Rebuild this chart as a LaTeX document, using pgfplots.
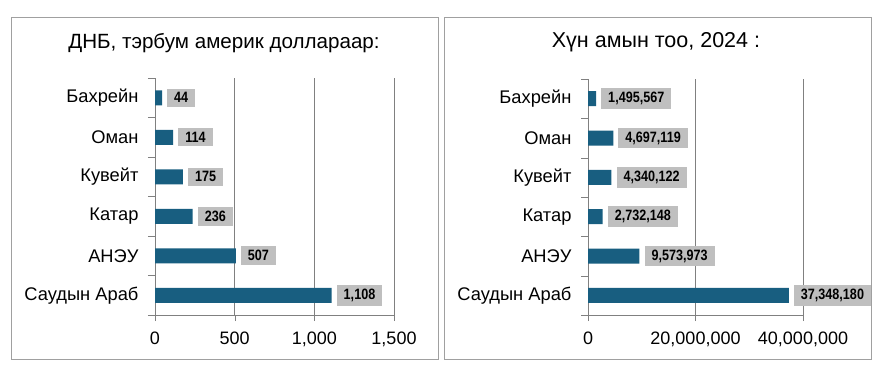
\documentclass[border=0pt]{standalone}
\usepackage{fontspec}
\setmainfont{Liberation Sans}
\newfontfamily\labfont[FakeStretch=0.84]{Liberation Sans}
\usepackage{pgfplots}
\usepackage{pgfplotstable}
\pgfplotsset{compat=1.18}
\definecolor{barc}{RGB}{24,94,128}
\definecolor{labc}{RGB}{191,191,191}
\definecolor{gridc}{RGB}{128,128,128}
\definecolor{framec}{RGB}{160,160,160}
\pgfplotstableread{
y x lab
0 1108 1,108
1 507 507
2 236 236
3 175 175
4 114 114
5 44 44
}\gdp
\pgfplotstableread{
y x lab
0 37348180 37,348,180
1 9573973 9,573,973
2 2732148 2,732,148
3 4340122 4,340,122
4 4697119 4,697,119
5 1495567 1,495,567
}\pop
\pgfplotsset{
  myax/.style={
    scale only axis,
    anchor=south west,
    height=237pt,
    xmin=0,
    ymin=-0.5, ymax=5.5,
    axis x line*=bottom,
    axis y line*=left,
    axis line style={gridc},
    xmajorgrids,
    major grid style={gridc},
    tick style={gridc},
    tick align=outside,
    major tick length=6pt,
    ytick={0,...,5},
    yticklabels={Саудын Араб,АНЭУ,Катар,Кувейт,Оман,Бахрейн},
    ytick style={draw=none},
    extra y ticks={-0.5,0.5,1.5,2.5,3.5,4.5,5.5},
    extra y tick labels={},
    extra y tick style={ytick style={draw=gridc}, major tick length=7pt, grid=none},
    yticklabel style={font=\fontsize{18.3}{21}\selectfont, xshift=-7pt},
    xticklabel style={font=\fontsize{18}{21}\selectfont, yshift=-7pt},
    /pgf/number format/assume math mode=true,
    xbar, bar width=15pt,
    point meta=explicit symbolic,
    nodes near coords,
    nodes near coords style={anchor=west, xshift=5pt, fill=labc, inner xsep=7pt, inner ysep=4pt, font=\labfont\bfseries\fontsize{15}{17}\selectfont, text=black},
    clip=false,
  }
}
\begin{document}
\begin{tikzpicture}[x=1pt,y=1pt]
\useasboundingbox (0,0) rectangle (882,368);
\fill[white] (0,0) rectangle (882,368);
\draw[framec] (11,9) rectangle (438,351);
\draw[framec] (444,9) rectangle (871,351);
\node[font=\fontsize{20.6}{24}\selectfont] at (224,325) {ДНБ, тэрбум америк доллараар:};
\node[font=\fontsize{21.5}{24}\selectfont] at (656,326) {Хүн амын тоо, 2024 :};
\begin{axis}[myax, at={(155pt,53pt)}, width=239pt,
  xmax=1500, xtick={0,500,1000,1500},
  xticklabels={0,500,{1,000},{1,500}}]
\addplot[fill=barc, draw=none] table[x=x,y=y,meta=lab] \gdp;
\end{axis}
\begin{axis}[myax, at={(588pt,53pt)}, width=215pt, height=236pt,
  xmax=40000000, xtick={0,20000000,40000000}, scaled x ticks=false,
  xticklabels={0,{20,000,000},{40,000,000}}]
\addplot[fill=barc, draw=none] table[x=x,y=y,meta=lab] \pop;
\end{axis}
\end{tikzpicture}
\end{document}
